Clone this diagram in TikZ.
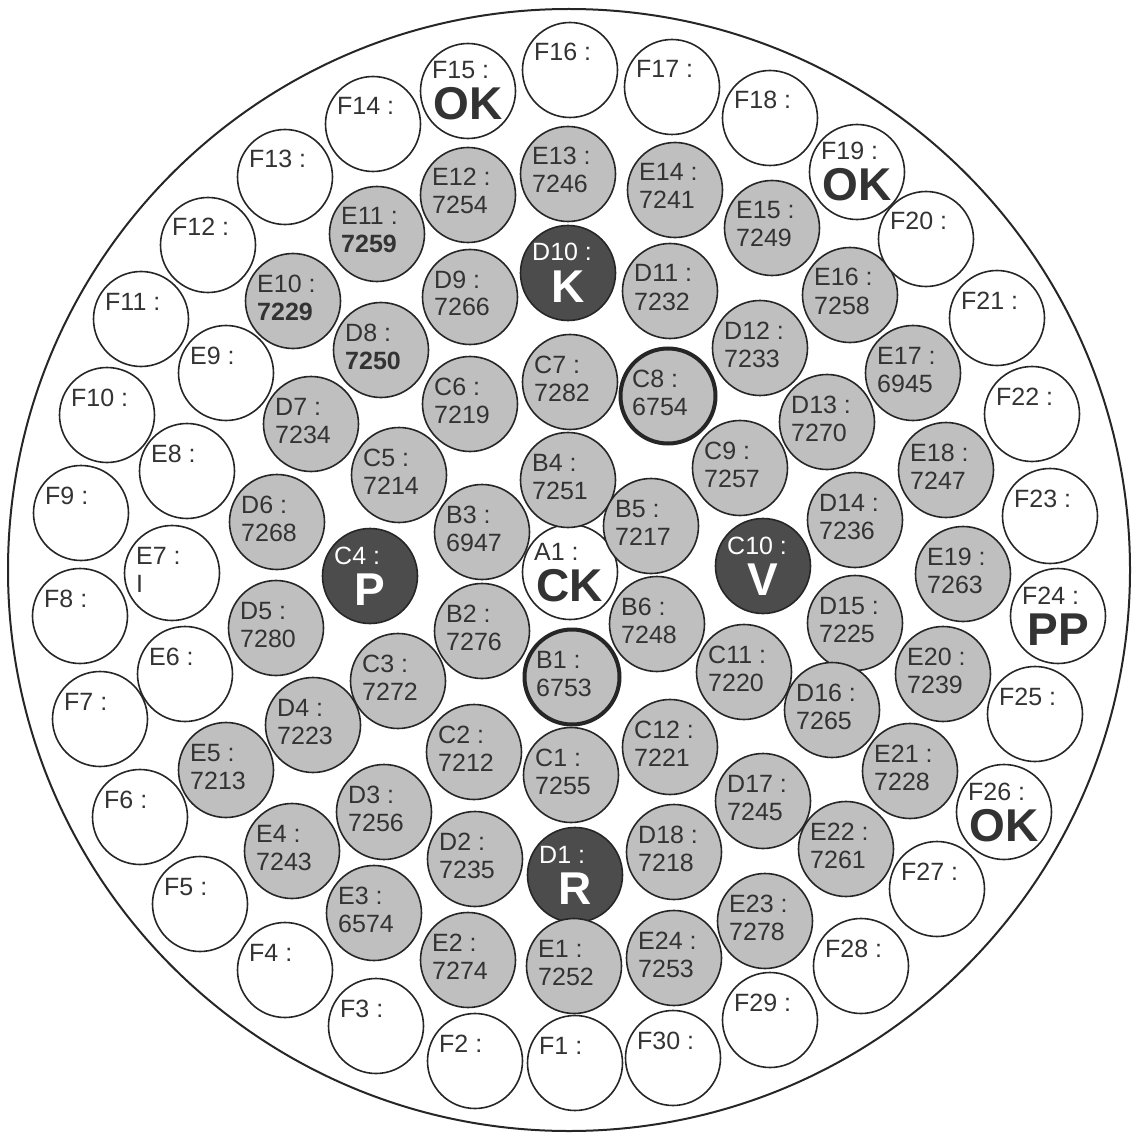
\documentclass[tikz,border=0pt]{standalone}
\usepackage{fontspec}
\setmainfont{Liberation Sans}
\tikzset{
  x=1pt, y=-1pt,
  rod/.style={circle, draw=black!85, line width=1.6pt, minimum size=95pt, inner sep=0pt},
  rods/.style={rod, fill=black!25},
  rodd/.style={rod, fill=black!70},
  rodw/.style={rod, fill=white},
  heavyrim/.style={line width=4pt},
  lbl/.style={inner sep=0pt, font=\fontsize{25}{30}\selectfont, text=black!80},
  big/.style={inner sep=0pt, font=\fontsize{46}{50}\selectfont\bfseries, text=black!80},
}
% value rod: name, x, y, style, value
\newcommand\rodv[5]{%
  \node[#4] (#1) at (#2,#3) {};
  \node[lbl, anchor=base west] (#1-l) at ([shift={(-36,-9)}]#1.center) {#1 :};
  \node[lbl, anchor=base west] (#1-v) at ([shift={(-36,19)}]#1.center) {#5};
}
% big-letter rod: name, x, y, style, letters, text colour
\newcommand\rodb[6]{%
  \node[#4] (#1) at (#2,#3) {};
  \node[lbl, text=#6, anchor=base west] (#1-l) at ([shift={(-36,-12)}]#1.center) {#1 :};
  \node[big, text=#6, anchor=base] (#1-v) at ([shift={(0,29)}]#1.center) {#5};
}
% empty rod: name, x, y
\newcommand\rode[3]{%
  \node[rodw] (#1) at (#2,#3) {};
  \node[lbl, anchor=base west] (#1-l) at ([shift={(-36,-9)}]#1.center) {#1 :};
}
\begin{document}
\begin{tikzpicture}
\useasboundingbox (0,0) rectangle (1141,1134);
\node[circle, draw=black!85, line width=2pt, minimum size=1122pt, inner sep=0pt] (vessel) at (569,570) {};
% A ring
\rodb{A1}{570}{572}{rodw}{CK}{black!80}
% B ring
\rodv{B1}{572}{677}{rods, heavyrim}{6753}
\rodv{B2}{482}{631}{rods}{7276}
\rodv{B3}{482}{532}{rods}{6947}
\rodv{B4}{568}{480}{rods}{7251}
\rodv{B5}{651}{526}{rods}{7217}
\rodv{B6}{657}{624}{rods}{7248}
% C ring
\rodv{C1}{571}{775}{rods}{7255}
\rodv{C2}{474}{752}{rods}{7212}
\rodv{C3}{398}{681}{rods}{7272}
\rodb{C4}{370}{576}{rodd}{P}{white}
\rodv{C5}{399}{475}{rods}{7214}
\rodv{C6}{470}{404}{rods}{7219}
\rodv{C7}{570}{382}{rods}{7282}
\rodv{C8}{668}{396}{rods, heavyrim}{6754}
\rodv{C9}{740}{468}{rods}{7257}
\rodb{C10}{763}{566}{rodd}{V}{white}
\rodv{C11}{744}{672}{rods}{7220}
\rodv{C12}{670}{747}{rods}{7221}
% D ring
\rodb{D1}{575}{875}{rodd}{R}{white}
\rodv{D2}{475}{859}{rods}{7235}
\rodv{D3}{384}{812}{rods}{7256}
\rodv{D4}{313}{725}{rods}{7223}
\rodv{D5}{276}{628}{rods}{7280}
\rodv{D6}{277}{522}{rods}{7268}
\rodv{D7}{311}{424}{rods}{7234}
\rodv{D8}{381}{350}{rods}{\textbf{7250}}
\rodv{D9}{470}{297}{rods}{7266}
\rodb{D10}{568}{273}{rodd}{K}{white}
\rodv{D11}{670}{291}{rods}{7232}
\rodv{D12}{760}{348}{rods}{7233}
\rodv{D13}{827}{422}{rods}{7270}
\rodv{D14}{855}{520}{rods}{7236}
\rodv{D15}{855}{623}{rods}{7225}
\rodv{D16}{832}{710}{rods}{7265}
\rodv{D17}{763}{801}{rods}{7245}
\rodv{D18}{674}{852}{rods}{7218}
% E ring
\rodv{E1}{574}{966}{rods}{7252}
\rodv{E2}{468}{960}{rods}{7274}
\rodv{E3}{374}{913}{rods}{6574}
\rodv{E4}{292}{851}{rods}{7243}
\rodv{E5}{226}{770}{rods}{7213}
\rode{E6}{185}{674}
\rodv{E7}{172}{573}{rodw}{I}
\rode{E8}{187}{471}
\rode{E9}{226}{373}
\rodv{E10}{293}{301}{rods}{\textbf{7229}}
\rodv{E11}{377}{234}{rods}{\textbf{7259}}
\rodv{E12}{468}{195}{rods}{7254}
\rodv{E13}{568}{174}{rods}{7246}
\rodv{E14}{675}{190}{rods}{7241}
\rodv{E15}{772}{228}{rods}{7249}
\rodv{E16}{850}{295}{rods}{7258}
\rodv{E17}{913}{373}{rods}{6945}
\rodv{E18}{946}{470}{rods}{7247}
\rodv{E19}{963}{574}{rods}{7263}
\rodv{E20}{943}{674}{rods}{7239}
\rodv{E21}{910}{771}{rods}{7228}
\rodv{E22}{846}{849}{rods}{7261}
\rodv{E23}{765}{921}{rods}{7278}
\rodv{E24}{674}{958}{rods}{7253}
% F ring
\rode{F1}{575}{1063}
\rode{F2}{475}{1061}
\rode{F3}{376}{1026}
\rode{F4}{285}{970}
\rode{F5}{200}{904}
\rode{F6}{140}{817}
\rode{F7}{100}{719}
\rode{F8}{80}{616}
\rode{F9}{81}{513}
\rode{F10}{107}{415}
\rode{F11}{141}{319}
\rode{F12}{208}{245}
\rode{F13}{285}{177}
\rode{F14}{373}{124}
\rodb{F15}{468}{91}{rodw}{OK}{black!80}
\rode{F16}{570}{70}
\rode{F17}{672}{87}
\rode{F18}{770}{118}
\rodb{F19}{857}{172}{rodw}{OK}{black!80}
\rode{F20}{926}{239}
\rode{F21}{997}{318}
\rode{F22}{1032}{414}
\rode{F23}{1050}{516}
\rodb{F24}{1058}{616}{rodw}{PP}{black!80}
\rode{F25}{1035}{714}
\rodb{F26}{1004}{812}{rodw}{OK}{black!80}
\rode{F27}{937}{889}
\rode{F28}{861}{966}
\rode{F29}{770}{1020}
\rode{F30}{673}{1058}
\end{tikzpicture}
\end{document}
